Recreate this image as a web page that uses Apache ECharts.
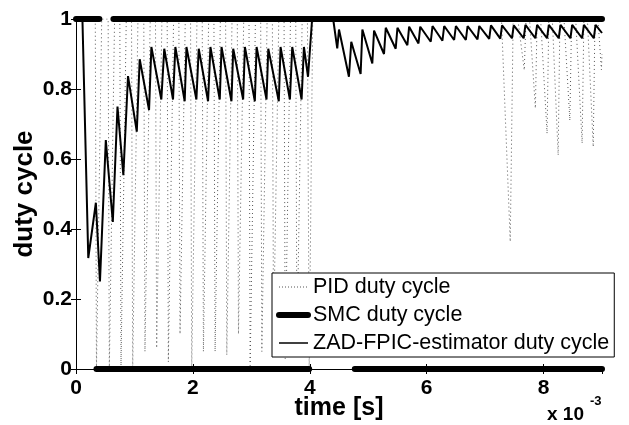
<!DOCTYPE html>
<html>
<head>
<meta charset="utf-8">
<script src="https://cdn.jsdelivr.net/npm/echarts@6/dist/echarts.min.js"></script>
<style>
  html, body { margin: 0; padding: 0; background: #fff; }
  #myChart { width: 629px; height: 425px; }
</style>
</head>
<body>
<div id="myChart"></div>
<script>
// time axis is in units of 1e-3 s
// PID duty cycle (thin dotted)
var pidT = [0, 0.33, 0.35, 0.44, 0.55, 0.57, 0.66, 0.75, 0.77, 0.86, 0.95, 0.97, 1.06,
  1.16, 1.18, 1.27, 1.36, 1.38, 1.47, 1.56, 1.58, 1.67, 1.76, 1.78, 1.87, 1.96, 1.98, 2.07,
  2.16, 2.18, 2.27, 2.36, 2.38, 2.47, 2.56, 2.58, 2.67, 2.76, 2.78, 2.87, 2.96, 2.98, 3.07,
  3.16, 3.18, 3.27, 3.36, 3.38, 3.47, 3.56, 3.58, 3.67, 3.76, 3.78, 3.87, 3.96, 3.99, 4.05,
  7.28, 7.43, 7.48, 7.56, 7.67, 7.70, 7.76, 7.86, 7.89, 7.95, 8.06, 8.09, 8.15, 8.25, 8.28,
  8.35, 8.45, 8.48, 8.55, 8.66, 8.69, 8.75, 8.85, 8.88, 8.93, 8.99, 9.0]
var pidY = [1, 1, 0, 1, 1, 0, 1, 1, 0.01, 1, 1, 0, 1,
  1, 0.05, 1, 1, 0.06, 1, 1, 0.02, 1, 1, 0.1, 1, 1, 0, 1,
  1, 0.05, 1, 1, 0.05, 1, 1, 0.04, 1, 1, 0.1, 1, 1, 0.01, 1,
  1, 0.05, 1, 1, 0.09, 1, 1, 0.03, 1, 1, 0.05, 1, 1, 0, 1,
  1, 0.364, 1, 1, 0.854, 1, 1, 0.745, 1, 1, 0.673, 1, 1, 0.611, 1,
  1, 0.71, 1, 1, 0.645, 1, 1, 0.635, 1, 1, 0.855, 0.9]

// SMC duty cycle (thick), null = break
var smcT = [0, 0.4, null, 0.64, 9, null, 0.35, 3.99, null, 4.77, 9]
var smcY = [1, 1, null, 1, 1, null, 0, 0, null, 0, 0]

// ZAD-FPIC-estimator duty cycle
var zadT = [0, 0.11, 0.21, 0.34, 0.41, 0.51, 0.63, 0.71, 0.81, 0.89, 1.04, 1.09, 1.25, 1.29,
  1.46, 1.51, 1.66, 1.70, 1.86, 1.89, 2.06, 2.10, 2.26, 2.30, 2.46, 2.49, 2.66, 2.69,
  2.86, 2.89, 3.06, 3.09, 3.26, 3.29, 3.47, 3.50, 3.66, 3.70, 3.86, 3.90, 3.97, 4.04,
  4.40, 4.47, 4.50, 4.67, 4.71, 4.87, 4.90, 5.07, 5.10, 5.27, 5.30, 5.47, 5.50, 5.67, 5.70,
  5.86, 5.89, 6.07, 6.10, 6.27, 6.30, 6.47, 6.50, 6.67, 6.70, 6.87, 6.90, 7.07, 7.10,
  7.26, 7.29, 7.46, 7.49, 7.66, 7.69, 7.86, 7.89, 8.06, 8.09, 8.26, 8.29, 8.46, 8.49,
  8.66, 8.69, 8.86, 8.89, 9.0]
var zadY = [1, 1, 0.317, 0.475, 0.25, 0.654, 0.42, 0.75, 0.554, 0.837, 0.678, 0.885, 0.74, 0.92,
  0.77, 0.915, 0.77, 0.92, 0.765, 0.92, 0.77, 0.915, 0.765, 0.92, 0.77, 0.92, 0.765, 0.915,
  0.77, 0.92, 0.765, 0.92, 0.77, 0.915, 0.765, 0.92, 0.77, 0.92, 0.77, 0.92, 0.835, 1,
  1, 0.916, 0.97, 0.835, 0.935, 0.843, 0.97, 0.873, 0.967, 0.90, 0.975, 0.915, 0.975, 0.925, 0.978,
  0.93, 0.978, 0.935, 0.98, 0.938, 0.98, 0.94, 0.98, 0.94, 0.98, 0.942, 0.98, 0.943, 0.982,
  0.944, 0.982, 0.945, 0.982, 0.945, 0.983, 0.945, 0.983, 0.945, 0.983, 0.945, 0.983, 0.945, 0.983,
  0.945, 0.983, 0.945, 0.983, 0.96]

var xTicks = [0, 2, 4, 6, 8]
var yTicks = [0, 0.2, 0.4, 0.6, 0.8, 1]

function pairs(t, y) {
  return t.map(function (v, i) {
    return v === null ? ['-', '-'] : [v, y[i]]
  })
}

var font = 'Arial, "Liberation Sans", sans-serif'
var labelStyle = { color: '#000', fontFamily: font, fontWeight: 'bold', fontSize: 21 }
var pidLine = { color: '#555', width: 1, type: [1, 3] }

var myChart = echarts.init(document.getElementById('myChart'))
myChart.setOption({
  animation: false,
  backgroundColor: '#fff',
  grid: { left: 76, right: 27, top: 19, bottom: 56, outerBoundsMode: 'none' },
  legend: {
    orient: 'vertical',
    left: 272,
    top: 273,
    data: [
      { name: 'PID duty cycle', lineStyle: { color: '#555', width: 1, type: [1, 2] } },
      { name: 'SMC duty cycle', lineStyle: { color: '#000', width: 6 } },
      { name: 'ZAD-FPIC-estimator duty cycle', lineStyle: { color: '#000', width: 1.5 } }
    ],
    itemStyle: { opacity: 0 },
    backgroundColor: '#fff',
    borderColor: '#000',
    borderWidth: 1,
    borderRadius: 0,
    padding: [3, 5, 3, 4],
    itemGap: 6,
    itemWidth: 29,
    itemHeight: 14,
    textStyle: { color: '#000', fontFamily: font, fontSize: 21.5, lineHeight: 22 }
  },
  xAxis: [{
    type: 'value', min: 0, max: 9, interval: 2,
    name: 'time [s]', nameLocation: 'middle', nameGap: 27, nameMoveOverlap: false,
    nameTextStyle: { color: '#000', fontFamily: font, fontWeight: 'bold', fontSize: 25 },
    axisLine: { lineStyle: { color: '#000', width: 1 } },
    axisTick: { inside: true, length: 5, lineStyle: { color: '#000' } },
    axisLabel: Object.assign({ margin: 9, showMaxLabel: false,
      formatter: function (v) { return xTicks.indexOf(v) >= 0 ? String(v) : '' } }, labelStyle),
    splitLine: { show: false }
  }, {
    type: 'value', min: 0, max: 9, interval: 2, position: 'top',
    axisLine: { lineStyle: { color: '#000', width: 1 } },
    axisTick: { inside: true, length: 5, lineStyle: { color: '#000' } },
    axisLabel: { show: false },
    splitLine: { show: false }
  }],
  yAxis: [{
    type: 'value', min: 0, max: 1, interval: 0.2,
    name: 'duty cycle', nameLocation: 'middle', nameGap: 38, nameMoveOverlap: false,
    nameTextStyle: { color: '#000', fontFamily: font, fontWeight: 'bold', fontSize: 26 },
    axisLine: { show: true, lineStyle: { color: '#000', width: 1 } },
    axisTick: { show: true, inside: true, length: 5, lineStyle: { color: '#000' } },
    axisLabel: Object.assign({ margin: 4,
      formatter: function (v) { return yTicks.indexOf(+v.toFixed(1)) >= 0 ? String(+v.toFixed(1)) : '' } }, labelStyle),
    splitLine: { show: false }
  }, {
    type: 'value', min: 0, max: 1, interval: 0.2, position: 'right',
    axisLine: { show: true, lineStyle: { color: '#000', width: 1 } },
    axisTick: { show: true, inside: true, length: 5, lineStyle: { color: '#000' } },
    axisLabel: { show: false },
    splitLine: { show: false }
  }],
  graphic: [
    { type: 'text', left: 547, top: 405, style: { text: 'x 10', fill: '#000', font: 'bold 19px ' + font } },
    { type: 'text', left: 590, top: 395, style: { text: '-3', fill: '#000', font: 'bold 13px ' + font } }
  ],
  series: [{
    name: 'PID duty cycle',
    type: 'line',
    symbol: 'none',
    data: pairs(pidT, pidY),
    lineStyle: pidLine,
    itemStyle: { color: '#555' },
    z: 2
  }, {
    name: 'SMC duty cycle',
    type: 'line',
    symbol: 'none',
    clip: false,
    connectNulls: false,
    data: pairs(smcT, smcY),
    lineStyle: { color: '#000', width: 6, cap: 'round' },
    itemStyle: { color: '#000' },
    z: 3
  }, {
    name: 'ZAD-FPIC-estimator duty cycle',
    type: 'line',
    symbol: 'none',
    data: pairs(zadT, zadY),
    lineStyle: { color: '#000', width: 2 },
    itemStyle: { color: '#000' },
    z: 4
  }]
})
</script>
</body>
</html>
